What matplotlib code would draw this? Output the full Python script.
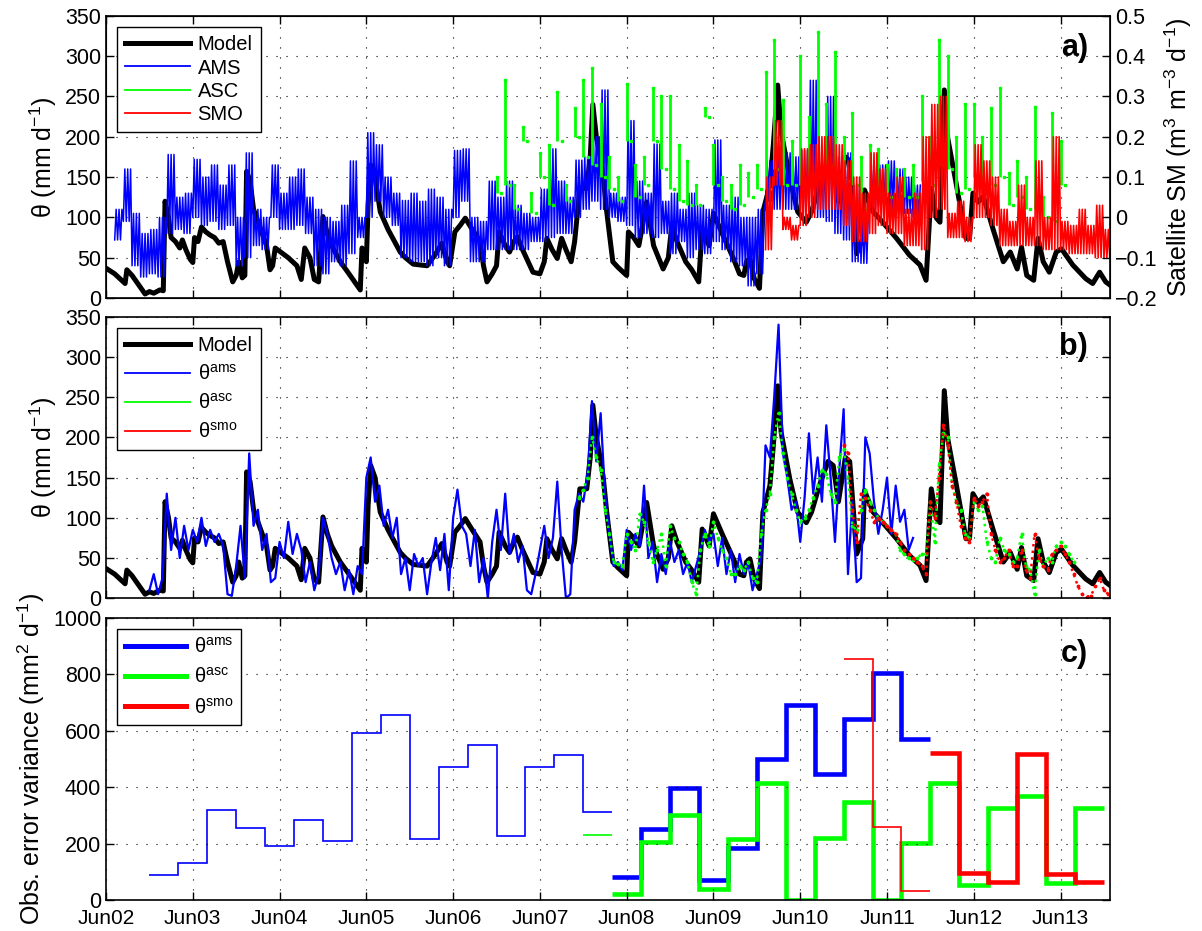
import numpy as np
import matplotlib
matplotlib.use('Agg')
import matplotlib.pyplot as plt
from matplotlib.lines import Line2D

plt.rcParams['font.family'] = ['Liberation Sans', 'DejaVu Sans']
plt.rcParams['mathtext.default'] = 'regular'
plt.rcParams['mathtext.fontset'] = 'custom'
plt.rcParams['mathtext.rm'] = 'Liberation Sans'

# ---------------- data (days since Jun02 00:00) ----------------
day_labels = ['Jun02', 'Jun03', 'Jun04', 'Jun05', 'Jun06', 'Jun07',
              'Jun08', 'Jun09', 'Jun10', 'Jun11', 'Jun12', 'Jun13']

model_t = [0.00, 0.10, 0.22, 0.24, 0.30, 0.45, 0.50, 0.55, 0.62, 0.66, 0.68, 0.72, 0.75, 0.80,
           0.85, 0.88, 0.92, 0.97, 1.00, 1.02, 1.06, 1.10, 1.15, 1.20, 1.25, 1.30, 1.35, 1.40,
           1.46, 1.50, 1.53, 1.57, 1.60, 1.62, 1.66, 1.70, 1.75, 1.80, 1.85, 1.89, 1.92, 1.95,
           2.00, 2.10, 2.20, 2.25, 2.29, 2.35, 2.40, 2.45, 2.50, 2.55, 2.60, 2.70, 2.80, 2.93,
           2.95, 3.00, 3.02, 3.05, 3.10, 3.16, 3.25, 3.39, 3.45, 3.54, 3.70, 3.80, 3.87, 3.93,
           3.96, 4.02, 4.08, 4.14, 4.22, 4.31, 4.35, 4.39, 4.45, 4.50, 4.53, 4.60, 4.65, 4.70,
           4.74, 4.80, 4.92, 5.00, 5.05, 5.08, 5.14, 5.20, 5.25, 5.30, 5.36, 5.40, 5.46, 5.54,
           5.58, 5.61, 5.65, 5.69, 5.73, 5.77, 5.84, 5.90, 6.00, 6.02, 6.08, 6.14, 6.23, 6.31,
           6.42, 6.48, 6.52, 6.58, 6.68, 6.75, 6.83, 6.87, 6.95, 7.00, 7.10, 7.23, 7.30, 7.35,
           7.38, 7.42, 7.47, 7.53, 7.57, 7.65, 7.69, 7.74, 7.78, 7.88, 7.97, 8.07, 8.13, 8.22,
           8.32, 8.38, 8.44, 8.52, 8.57, 8.65, 8.72, 8.74, 8.78, 8.84, 8.95, 9.11, 9.26, 9.38,
           9.45, 9.51, 9.57, 9.61, 9.66, 9.70, 9.80, 9.91, 9.95, 9.99, 10.05, 10.11, 10.22, 10.34,
           10.42, 10.50, 10.55, 10.61, 10.69, 10.74, 10.80, 10.87, 10.95, 11.01, 11.14, 11.29,
           11.37, 11.45, 11.52, 11.57]
model_v = [37, 30, 18, 35, 28, 5, 8, 6, 10, 9, 120, 100, 75, 70,
           62, 72, 60, 48, 44, 75, 70, 88, 82, 78, 75, 68, 70, 45,
           20, 28, 45, 25, 28, 157, 145, 110, 95, 80, 65, 35, 40, 62,
           58, 50, 40, 23, 62, 50, 23, 20, 101, 80, 65, 45, 30, 10,
           62, 45, 115, 165, 150, 107, 85, 57, 50, 42, 40, 55, 68, 45,
           40, 82, 90, 99, 85, 70, 40, 20, 30, 40, 82, 65, 57, 70,
           76, 60, 32, 30, 45, 74, 60, 49, 74, 60, 45, 70, 136, 136,
           175, 240, 200, 177, 150, 107, 45, 38, 28, 82, 75, 65, 119, 65,
           36, 50, 90, 70, 45, 35, 20, 86, 65, 105, 80, 49, 30, 28,
           45, 49, 24, 12, 107, 140, 190, 264, 206, 148, 107, 94, 107, 140,
           170, 165, 120, 175, 170, 55, 74, 134, 123, 107, 94, 74, 53, 41,
           22, 136, 99, 94, 258, 198, 140, 74, 74, 130, 119, 126, 86, 45,
           57, 36, 63, 28, 22, 74, 45, 32, 57, 61, 41, 24,
           18, 32, 20, 16]

# panel a: AMS range (low/high, left-axis units) every 0.1 d from day 0.1
a_ams_start, a_ams_step = 0.1, 0.1
a_ams_lo = [72, 95, 40, 26, 30, 26, 80, 85, 80, 100,
            90, 95, 85, 90, 40, 50, 65, 60, 100, 85,
            85, 90, 80, 40, 30, 45, 40, 55, 75, 100,
            120, 100, 90, 50, 45, 45, 40, 50, 40, 100,
            120, 45, 45, 60, 60, 60, 60, 60, 70, 70,
            75, 80, 80, 100, 110, 120, 110, 100, 95, 90,
            75, 80, 75, 80, 55, 70, 50, 60, 55, 70,
            60, 45, 40, 15, 30, 120, 110, 110, 110, 100,
            110, 100, 95, 80, 72, 45, 43, 110, 115, 110,
            110, 105, 100]
a_ams_hi = [110, 160, 105, 80, 85, 100, 178, 125, 130, 172,
            150, 165, 140, 165, 100, 180, 110, 100, 165, 130,
            150, 160, 125, 110, 100, 95, 115, 170, 100, 205,
            190, 150, 130, 121, 130, 120, 135, 125, 110, 183,
            185, 100, 95, 145, 125, 145, 115, 105, 100, 135,
            185, 145, 125, 171, 175, 200, 258, 130, 125, 220,
            145, 130, 191, 120, 130, 110, 130, 115, 110, 196,
            115, 125, 100, 100, 110, 170, 175, 180, 175, 183,
            270, 180, 250, 175, 180, 140, 100, 170, 165, 170,
            160, 150, 140]

# panel a: ASC range (low/high) every 0.1 d from day 4.5
a_asc_start, a_asc_step = 4.5, 0.1
a_asc_lo = [130, 140, 110, 195, 105, 150, 115, 195, 120, 200,
            175, 165, 150, 135, 120, 195, 125, 140, 195, 160,
            135, 120, 115, 115, 225, 140, 120, 110, 115, 125,
            135, 135, 160, 140, 140, 140, 150, 160, 165, 150,
            145, 140, 110, 130, 130, 125, 130, 125, 125, 145,
            140, 165, 160, 130, 135, 150, 130, 140, 150, 115,
            125, 110, 110, 100, 95, 140]
a_asc_hi = [150, 270, 140, 212, 130, 180, 190, 255, 140, 235,
            270, 285, 240, 175, 150, 265, 165, 175, 260, 250,
            250, 190, 170, 140, 235, 190, 150, 140, 165, 155,
            165, 280, 320, 245, 195, 300, 225, 330, 240, 305,
            200, 230, 175, 190, 185, 165, 160, 160, 165, 250,
            200, 320, 300, 200, 240, 240, 200, 235, 260, 155,
            170, 150, 237, 125, 230, 195]

# panel a: SMO range (low/high) every 0.1 d from day 7.6
a_smo_start, a_smo_step = 7.6, 0.1
a_smo_lo = [60, 140, 85, 72, 90, 100, 110, 110, 110, 90,
            70, 70, 80, 90, 80, 80, 65, 65, 60, 100,
            110, 75, 75, 70, 100, 100, 90, 65, 65, 65,
            65, 65, 60, 60, 60, 55, 55, 55, 50, 50]
a_smo_hi = [150, 220, 100, 90, 185, 190, 200, 200, 190, 170,
            150, 130, 180, 160, 130, 150, 110, 130, 200, 240,
            250, 105, 120, 100, 190, 170, 150, 110, 95, 140,
            100, 170, 100, 200, 95, 90, 110, 90, 115, 85]

# panel b: rescaled observations, one value every 0.05 d
b_ams_start, b_step = 0.50, 0.05
b_ams = [10, 30, 5, 25, 130, 60, 100, 50, 90, 60,
         85, 70, 100, 65, 85, 70, 80, 65, 5, 3,
         40, 90, 25, 180, 90, 110, 60, 80, 20, 25,
         70, 50, 95, 55, 80, 60, 20, 45, 10, 30,
         100, 80, 50, 30, 45, 10, 35, 5, 40, 30,
         150, 175, 120, 140, 90, 110, 75, 100, 30, 50,
         10, 55, 40, 50, 5, 45, 75, 35, 80, 10,
         100, 135, 90, 80, 40, 85, 20, 50, 0, 70,
         110, 60, 130, 55, 80, 45, 65, 10, 5, 30,
         60, 90, 50, 75, 145, 60, 0, 5, 110, 130,
         120, 155, 245, 170, 230, 130, 80, 40, 45, 35,
         85, 60, 80, 65, 140, 50, 70, 20, 55, 30,
         70, 45, 60, 30, 45, 20, 40, 60, 85, 70,
         80, 40, 75, 30, 60, 20, 55, 30, 45, 10,
         30, 50, 190, 175, 250, 340, 180, 150, 110, 120,
         70, 125, 205, 130, 175, 120, 215, 150, 70, 160,
         235, 30, 120, 20, 25, 200, 180, 120, 80, 110,
         150, 80, 140, 95, 110, 60, 75]
b_asc_start = 5.45
b_asc = [125,
         135, 150, 200, 175, 160, 110, 80, 45, 42, 40,
         80, 70, 60, 105, 95, 70, 45, 60, 80, 40,
         90, 75, 70, 55, 45, 20, 5, 60, 80, 65,
         95, 75, 60, 50, 30, 30, 40, 35, 45, 25,
         20, 80, 110, 130, 200, 230, 180, 150, 130, 110,
         95, 100, 110, 125, 140, 160, 155, 130, 120, 175,
         185, 150, 90, 85, 110, 135, 120, 110, 100, 95,
         90, 85, 80, 60, 55, 50, 48, 50, 55, 55,
         120, 70, 165, 205, 200, 140, 120, 110, 80, 75,
         120, 110, 115, 70, 50, 45, 75, 60, 55, 45,
         50, 80, 40, 35, 5, 60, 40, 50, 45, 65,
         70, 65, 55, 45]
b_smo_start = 8.50
b_smo = [190, 180, 110, 70, 130, 125, 110, 95, 100, 95,
         90, 85, 80, 70, 60, 55, 50, 45, 40, 30,
         120, 100, 150, 215, 190, 140, 120, 90, 75, 70,
         125, 115, 120, 130, 80, 60, 45, 50, 60, 40,
         40, 60, 35, 25, 80, 50, 40, 35, 55, 60,
         65, 55, 45, 30, 15, 5, 2, 3, 15, 25,
         10, 5]

# panel c: observation error variance, 8-hourly bins (bin width 1/3 d)
c_bin = 1.0 / 3.0
c_ams_thin_start = 0.5
c_ams_thin = [90, 130, 320, 255, 190, 285, 210, 590, 655, 215, 470, 550, 225, 470, 515, 310]
c_asc_thin_start = 5.5
c_asc_thin = [230]
c_smo_thin_start = 8.5
c_smo_thin = [853, 260, 33]
c_ams_start = 5.0 + 2.5 / 3.0
c_ams = [80, 250, 395, 70, 185, 500, 690, 445, 640, 805, 570]
c_asc_start = 5.0 + 2.5 / 3.0
c_asc = [20, 205, 300, 40, 215, 415, 0, 220, 348, 0, 203, 414, 53, 327, 369, 60, 327]
c_smo_start = 9.5
c_smo = [522, 97, 65, 517, 92, 65]

sat_ticks = [-0.2, -0.1, 0.0, 0.1, 0.2, 0.3, 0.4, 0.5]
sat_labels = ['\u22120.2', '\u22120.1', '0', '0.1', '0.2', '0.3', '0.4', '0.5']

# ---------------- styling ----------------
BLUE, GREEN, RED = (0, 0, 1), (0, 1, 0), (1, 0, 0)
XMAX = 11.57
TICK_FS, XTICK_FS, LAB_FS, LEG_FS, PAN_FS = 15.5, 15, 18, 14.5, 22
grid_kw = dict(color='k', linestyle=(0, (1, 8)), linewidth=0.8)

fig = plt.figure(figsize=(12.02, 9.31), dpi=100)
L, W = 0.0882, 0.8353
axa = fig.add_axes([L, 0.6799, W, 0.3032])
axb = fig.add_axes([L, 0.3574, W, 0.3025])
axc = fig.add_axes([L, 0.0333, W, 0.3032])


def series_t(start, step, n):
    return start + step * np.arange(n)


def zig(start, step, lo, hi, sub=6):
    """Zig-zag between the low and high value of each bin (sub strokes per bin)."""
    t = series_t(start, step, len(lo))
    frac = np.arange(sub) / sub
    x = (t[:, None] + step * frac[None, :]).ravel()
    y = np.where(np.arange(sub)[None, :] % 2 == 0,
                 np.asarray(lo, float)[:, None], np.asarray(hi, float)[:, None]).ravel()
    return x, y


def style(ax, ymax, yticks, right=True, xlabels=False):
    ax.set_xlim(0, XMAX)
    ax.set_ylim(0, ymax)
    ax.set_xticks(range(len(day_labels)))
    ax.set_xticklabels(day_labels if xlabels else [])
    ax.set_yticks(yticks)
    ax.tick_params(direction='in', length=6, width=1, top=True, right=right,
                   labelsize=TICK_FS)
    ax.tick_params(axis='x', pad=6.5, labelsize=XTICK_FS)
    ax.grid(True, **grid_kw)
    for s in ax.spines.values():
        s.set_linewidth(1.2)


# ---- panel a ----
axa.plot(model_t, model_v, color='k', lw=3.6, solid_joinstyle='round')
xb, yb = zig(a_ams_start, a_ams_step, a_ams_lo, a_ams_hi)
axa.plot(xb, yb, color=BLUE, lw=1.1)
tg = series_t(a_asc_start, a_asc_step, len(a_asc_lo))
axa.vlines(tg, a_asc_lo, a_asc_hi, color=GREEN, lw=2.0)
axa.plot(tg, a_asc_hi, 's', color=GREEN, ms=1.6)
axa.plot(tg + 0.05, a_asc_lo, 's', color=GREEN, ms=1.6)
xr, yr = zig(a_smo_start, a_smo_step, a_smo_lo, a_smo_hi)
axa.plot(xr, yr, color=RED, lw=1.2)
style(axa, 350, range(0, 351, 50), right=False)
axa.set_ylabel('\u03b8 (mm d$^{-1}$)', fontsize=LAB_FS)
axa2 = axa.twinx()
axa2.set_ylim(-0.2, 0.5)
axa2.set_yticks(sat_ticks)
axa2.set_yticklabels(sat_labels)
axa2.tick_params(direction='in', length=6, width=1, labelsize=TICK_FS)
axa2.set_ylabel('Satellite SM (m$^3$ m$^{-3}$ d$^{-1}$)', fontsize=LAB_FS)
axa.text(0.978, 0.94, 'a)', transform=axa.transAxes, ha='right', va='top',
         fontsize=PAN_FS, fontweight='bold')
leg_a = [Line2D([], [], color='k', lw=3.6), Line2D([], [], color=BLUE, lw=1.3),
         Line2D([], [], color=GREEN, lw=1.3), Line2D([], [], color=RED, lw=1.3)]
lg = axa.legend(leg_a, ['Model', 'AMS', 'ASC', 'SMO'], loc='upper left',
                bbox_to_anchor=(0.011, 0.96), borderaxespad=0, fontsize=LEG_FS,
                handlelength=3.2, handletextpad=0.4, labelspacing=0.22,
                borderpad=0.4, fancybox=False, framealpha=1, edgecolor='k')
lg.get_frame().set_linewidth(1.0)

# ---- panel b ----
axb.plot(model_t, model_v, color='k', lw=3.6, solid_joinstyle='round')
tb = series_t(b_ams_start, b_step, len(b_ams))
axb.plot(tb, b_ams, color=BLUE, lw=1.6)
tbg = series_t(b_asc_start, b_step, len(b_asc))
axb.plot(tbg, b_asc, ':', color=GREEN, lw=1.8)
axb.plot(tbg, b_asc, '.', color=GREEN, ms=3.5)
tbr = series_t(b_smo_start, b_step, len(b_smo))
axb.plot(tbr, b_smo, ':', color=RED, lw=1.8)
axb.plot(tbr, b_smo, '.', color=RED, ms=3.5)
style(axb, 350, range(0, 351, 50))
axb.set_ylabel('\u03b8 (mm d$^{-1}$)', fontsize=LAB_FS)
axb.text(0.978, 0.945, 'b)', transform=axb.transAxes, ha='right', va='top',
         fontsize=PAN_FS, fontweight='bold')
leg_b = [Line2D([], [], color='k', lw=3.6), Line2D([], [], color=BLUE, lw=1.3),
         Line2D([], [], color=GREEN, lw=1.3), Line2D([], [], color=RED, lw=1.3)]
lg = axb.legend(leg_b, ['Model', '\u03b8$^{ams}$', '\u03b8$^{asc}$', '\u03b8$^{smo}$'],
                loc='upper left', bbox_to_anchor=(0.011, 0.96), borderaxespad=0,
                fontsize=LEG_FS, handlelength=3.2, handletextpad=0.4,
                labelspacing=0.45, borderpad=0.4, fancybox=False, framealpha=1,
                edgecolor='k')
lg.get_frame().set_linewidth(1.0)

# ---- panel c ----
def edges(start, n):
    return start + c_bin * np.arange(n + 1)

axc.stairs(c_ams_thin, edges(c_ams_thin_start, len(c_ams_thin)), baseline=None,
           color=BLUE, lw=1.2)
axc.stairs(c_asc_thin, edges(c_asc_thin_start, len(c_asc_thin)), baseline=None,
           color=GREEN, lw=1.2)
axc.stairs(c_ams, edges(c_ams_start, len(c_ams)), baseline=None, color=BLUE, lw=3.3)
axc.stairs(c_asc, edges(c_asc_start, len(c_asc)), baseline=None, color=GREEN, lw=3.3)
axc.stairs(c_smo_thin, edges(c_smo_thin_start, len(c_smo_thin)), baseline=None,
           color=RED, lw=1.2)
axc.stairs(c_smo, edges(c_smo_start, len(c_smo)), baseline=None, color=RED, lw=3.3)
style(axc, 1000, range(0, 1001, 200), xlabels=True)
axc.set_ylabel('Obs. error variance (mm$^2$ d$^{-1}$)', fontsize=LAB_FS)
axc.text(0.978, 0.925, 'c)', transform=axc.transAxes, ha='right', va='top',
         fontsize=PAN_FS, fontweight='bold')
leg_c = [Line2D([], [], color=BLUE, lw=3.6), Line2D([], [], color=GREEN, lw=3.6),
         Line2D([], [], color=RED, lw=3.6)]
lg = axc.legend(leg_c, ['\u03b8$^{ams}$', '\u03b8$^{asc}$', '\u03b8$^{smo}$'],
                loc='upper left', bbox_to_anchor=(0.011, 0.96), borderaxespad=0,
                fontsize=LEG_FS, handlelength=3.0, handletextpad=0.4,
                labelspacing=0.5, borderpad=0.4, fancybox=False, framealpha=1,
                edgecolor='k')
lg.get_frame().set_linewidth(1.0)

fig.savefig('out.png', dpi=100)
